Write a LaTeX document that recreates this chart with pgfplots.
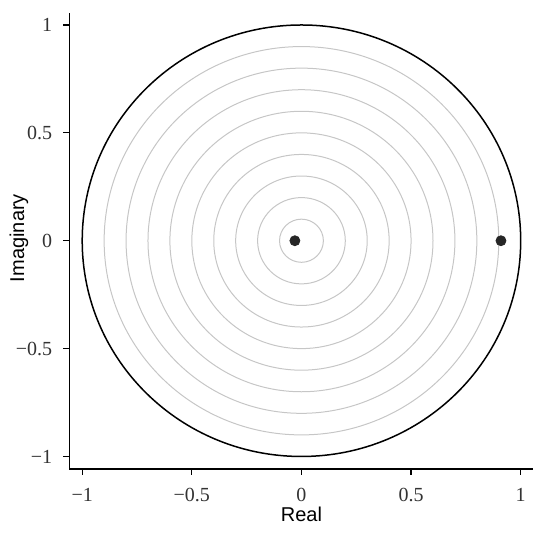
\documentclass[border=0pt]{standalone}
\usepackage{fontspec}
\setmainfont{Liberation Serif}
\newfontfamily\labelfont{Liberation Sans}
\usepackage{pgfplots}
\pgfplotsset{compat=1.18}

\begin{document}
\begin{tikzpicture}
\begin{axis}[
    scale only axis,
    width=231.85pt, height=228.15pt,
    xmin=-1.059, xmax=1.056,
    ymin=-1.058, ymax=1.057,
    axis x line*=bottom,
    axis y line*=left,
    axis line style={line width=0.65pt, -},
    xtick={-1,-0.5,0,0.5,1},
    ytick={-1,-0.5,0,0.5,1},
    xticklabels={−1,−0.5,0,0.5,1},
    yticklabels={−1,−0.5,0,0.5,1},
    tick align=outside,
    major tick length=3pt,
    tick style={line width=0.6pt, black},
    tick label style={font=\fontsize{10}{11}\selectfont, text=black!80},
    xticklabel style={yshift=-3pt},
    yticklabel style={xshift=-2pt},
    xlabel={Real},
    ylabel={Imaginary},
    label style={font=\labelfont\fontsize{10}{12}\selectfont},
    xlabel style={at={(axis description cs:0.5008,-0.1005)}, anchor=center},
    ylabel style={at={(axis description cs:-0.1085,0.506)}, anchor=center},
    clip=false,
]
% grey reference circles
\pgfplotsinvokeforeach{0.1,0.2,0.3,0.4,0.5,0.6,0.7,0.8,0.9}{
  \draw[gray!45, line width=0.5pt] (axis cs:0,0) ellipse [x radius=#1, y radius=#1];
}
% unit circle
\draw[black, line width=0.75pt] (axis cs:0,0) ellipse [x radius=1, y radius=1];

\addplot[only marks, mark=*, mark size=2.5pt, black!85] coordinates {(-0.03,0) (0.91,0)};

\coordinate (bbl) at (rel axis cs:-0.1494,-0.1381);
\coordinate (btr) at (rel axis cs:1.0367,1.0278);
\end{axis}
\path (bbl) rectangle (btr);
\end{tikzpicture}
\end{document}
